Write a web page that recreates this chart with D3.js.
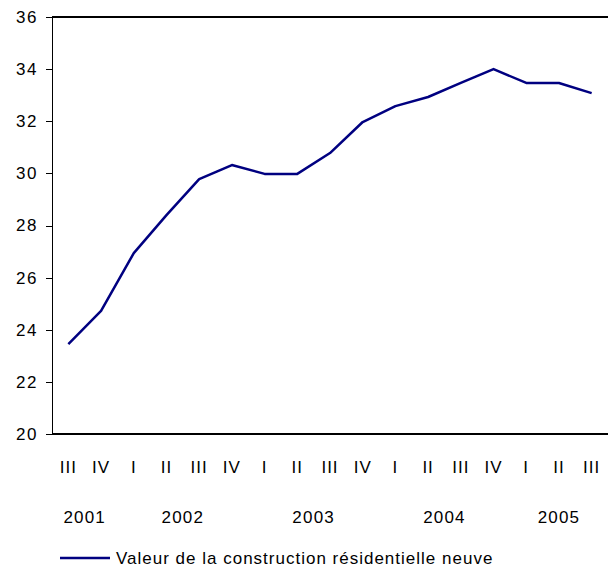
<!DOCTYPE html>
<html lang="fr">
<head>
<meta charset="utf-8">
<title>Valeur de la construction résidentielle neuve</title>
<style>
  body { margin: 0; background: #fff; }
  svg text { font-family: "Liberation Sans", Arial, sans-serif; fill: #000; }
  .axis path, .axis line { stroke: #000; shape-rendering: crispEdges; }
</style>
<script src="https://cdnjs.cloudflare.com/ajax/libs/d3/7.8.5/d3.min.js"></script>
</head>
<body>
<div id="chart"></div>
<script>
// quarters from III 2001 to III 2005
var quarters = ["III","IV","I","II","III","IV","I","II","III","IV","I","II","III","IV","I","II","III"];
var values = [23.45, 24.72, 26.94, 28.4, 29.78, 30.32, 29.98, 29.98, 30.78, 31.97, 32.58, 32.93, 33.47, 34.0, 33.47, 33.47, 33.08];
var years = ["2001", "2002", "2003", "2004", "2005"];
var yearAt = [0.5, 3.5, 7.5, 11.5, 15];   // quarter index under which each year label sits
var yTicks = [20, 22, 24, 26, 28, 30, 32, 34, 36];
var seriesName = "Valeur de la construction résidentielle neuve";

var W = 608, H = 572;
var margin = { top: 17, right: 0, bottom: 138, left: 52 };
var width = W - margin.left - margin.right,
    height = H - margin.top - margin.bottom;

var svg = d3.select("#chart").append("svg")
    .attr("width", W)
    .attr("height", H);

var g = svg.append("g")
    .attr("transform", "translate(" + margin.left + "," + margin.top + ")");

var x = d3.scaleBand().domain(d3.range(quarters.length)).range([0, width]);
var xc = function(i) { return x(0) + (i + 0.5) * x.step(); };
var y = d3.scaleLinear().domain([20, 36]).range([height, 0]);

// top frame line
g.append("line")
    .attr("x1", 0).attr("x2", width)
    .attr("y1", y(36)).attr("y2", y(36))
    .attr("stroke", "#000").attr("stroke-width", 1.5)
    .style("shape-rendering", "crispEdges");

// y axis
var yAxis = g.append("g").attr("class", "axis")
    .call(d3.axisLeft(y).tickValues(yTicks).tickSize(6).tickPadding(8).tickSizeOuter(0));
yAxis.select(".domain").attr("stroke-width", 1.5);
yAxis.selectAll("text").style("font-size", "17px").style("letter-spacing", "1.5px");

// x axis baseline
g.append("line")
    .attr("x1", 0).attr("x2", width)
    .attr("y1", height).attr("y2", height)
    .attr("stroke", "#000").attr("stroke-width", 1.5)
    .style("shape-rendering", "crispEdges");

// quarter labels
g.selectAll(".qlab")
    .data(quarters)
    .enter().append("text")
    .attr("class", "qlab")
    .attr("x", function(d, i) { return xc(i); })
    .attr("y", height + 39)
    .attr("text-anchor", "middle")
    .style("font-size", "17px")
    .style("letter-spacing", "1px")
    .text(function(d) { return d; });

// year labels
g.selectAll(".ylab")
    .data(years)
    .enter().append("text")
    .attr("class", "ylab")
    .attr("x", function(d, i) { return xc(yearAt[i]); })
    .attr("y", height + 89)
    .attr("text-anchor", "middle")
    .style("font-size", "17px")
    .style("letter-spacing", "1.2px")
    .text(function(d) { return d; });

// series line
var line = d3.line()
    .x(function(d, i) { return xc(i); })
    .y(function(d) { return y(d); });

g.append("path")
    .datum(values)
    .attr("fill", "none")
    .attr("stroke", "#000080")
    .attr("stroke-width", 2.5)
    .attr("stroke-linejoin", "round")
    .attr("d", line);

// legend
var legend = svg.append("g").attr("transform", "translate(60,558)");
legend.append("line")
    .attr("x1", 0).attr("x2", 50)
    .attr("stroke", "#000080").attr("stroke-width", 2.5);
legend.append("text")
    .attr("x", 56).attr("y", 6)
    .style("font-size", "17px")
    .style("letter-spacing", "1px")
    .text(seriesName);
</script>
</body>
</html>
